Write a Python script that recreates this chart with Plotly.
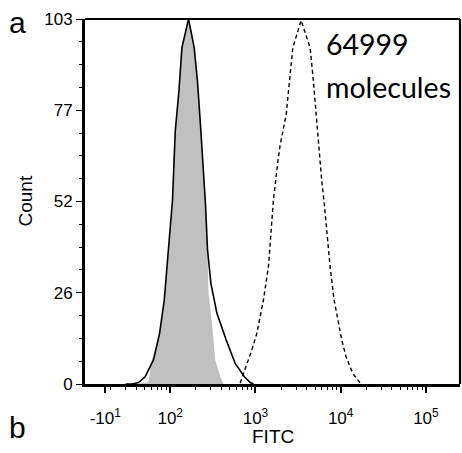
import plotly.graph_objects as go

# ---- data (FITC intensity, count) ----
unstained_fitc = [40, 55.2, 61, 75, 85.1, 95.5, 106.4, 114.5, 126.4, 137.1, 164, 191, 208.9, 229,
                  250.5, 259.5, 273.8, 280.5, 308.5, 337.5, 385.7, 421.8]
unstained_count = [0, 0.5, 6.8, 14.3, 23.7, 37.9, 52, 71.3, 82.6, 94.9, 103, 94.9, 85.4, 71.3,
                   57, 50.6, 37.9, 26, 17.2, 6.8, 2.1, 0]

control_fitc = [30, 36, 42.5, 50.9, 63.6, 75, 85.1, 95.5, 106.4, 114.5, 126.4, 137.1, 164, 191,
                208.9, 229, 250.5, 259.5, 273.8, 300, 352.5, 453.6, 578.6, 737.6, 867, 950]
control_count = [0, 0, 0.4, 2.1, 6.8, 14.3, 23.7, 37.9, 52, 71.3, 82.6, 94.9, 103, 94.9,
                 85.4, 71.3, 57, 50.6, 37.9, 28.4, 20, 12.4, 5.8, 2.1, 0.4, 0]

stained_fitc = [662, 778, 907, 1038, 1135, 1241, 1420, 1527, 1626, 1832, 1950, 2292, 2506, 2744,
                3433, 4378, 4788, 5149, 5479, 6000, 6440, 6870, 7513, 8372, 9150, 10300, 11570,
                13860, 16880]
stained_count = [0.3, 4.9, 9.6, 14.3, 19, 23.7, 33.1, 42.6, 52, 62.8, 67.5, 76, 84.5, 94.9,
                 102.6, 94.9, 85.4, 76, 66.6, 57.2, 50.6, 42.6, 33.1, 23.7, 19, 12.4, 7.7,
                 3, 0.3]

x_tickvals = [17.3, 100, 1000, 10000, 100000]
x_ticktext = ["-10<sup>1</sup>", "10<sup>2</sup>", "10<sup>3</sup>", "10<sup>4</sup>", "10<sup>5</sup>"]
x_minor = [20, 30, 40, 50, 60, 70, 80, 90,
           200, 300, 400, 500, 600, 700, 800, 900,
           2000, 3000, 4000, 5000, 6000, 7000, 8000, 9000,
           20000, 30000, 40000, 50000, 60000, 70000, 80000, 90000]
y_tickvals = [0, 25.75, 51.5, 77.25, 103]
y_ticktext = ["0", "26", "52", "77", "103"]

fig = go.Figure()
fig.add_trace(go.Scatter(x=unstained_fitc, y=unstained_count, mode="lines",
                         line=dict(width=0, color="#c0c0c0"), fill="tozeroy",
                         fillcolor="#c0c0c0", showlegend=False, hoverinfo="skip"))
fig.add_trace(go.Scatter(x=control_fitc, y=control_count, mode="lines",
                         line=dict(width=1.6, color="black"), showlegend=False))
fig.add_trace(go.Scatter(x=stained_fitc, y=stained_count, mode="lines",
                         line=dict(width=1.4, color="black", dash="4px,3px"), showlegend=False))

font_main = "Liberation Sans, Arial, sans-serif"

fig.update_layout(
    width=462, height=453,
    margin=dict(l=85, r=2, t=19, b=69),
    plot_bgcolor="white", paper_bgcolor="white",
    font=dict(family=font_main, color="black", size=17),
    xaxis=dict(type="log", range=[1.0, 5.4], showgrid=False, zeroline=False,
               showline=True, linecolor="black", linewidth=3,
               ticks="outside", ticklen=6, tickwidth=1.5, tickcolor="black",
               tickvals=x_tickvals, ticktext=x_ticktext, tickfont=dict(size=17),
               ticklabelstandoff=11,
               minor=dict(tickvals=x_minor, ticks="outside", ticklen=3, tickwidth=1.2,
                          tickcolor="black", showgrid=False)),
    yaxis=dict(range=[0, 103], showgrid=False, zeroline=False,
               showline=True, linecolor="black", linewidth=3,
               ticks="outside", ticklen=6, tickwidth=1.2, tickcolor="black",
               tickvals=y_tickvals, ticktext=y_ticktext, tickfont=dict(size=17),
               minor=dict(dtick=6.4375, tick0=0, ticks="outside", ticklen=3, tickwidth=1,
                          tickcolor="black", showgrid=False)),
    shapes=[
        dict(type="line", xref="paper", yref="paper", x0=0, x1=1, y0=1, y1=1,
             line=dict(color="black", width=2.2)),
        dict(type="line", xref="paper", yref="paper", x0=1, x1=1, y0=0, y1=1,
             line=dict(color="black", width=2.2)),
    ],
    annotations=[
        dict(text="Count", textangle=-90, xref="paper", yref="paper", x=-0.16, y=0.5,
             xanchor="center", yanchor="middle", showarrow=False, font=dict(size=19)),
        dict(text="FITC", xref="paper", yref="paper", x=0.5, y=-0.145,
             xanchor="center", yanchor="middle", showarrow=False, font=dict(size=19)),
        dict(text="a", xref="paper", yref="paper", x=-0.18, y=0.99,
             xanchor="center", yanchor="middle", showarrow=False, font=dict(size=30)),
        dict(text="b", xref="paper", yref="paper", x=-0.18, y=-0.12,
             xanchor="center", yanchor="middle", showarrow=False, font=dict(size=30)),
        dict(text="64999", xref="paper", yref="paper", x=0.637, y=0.931,
             xanchor="left", yanchor="middle", showarrow=False,
             font=dict(family="Lato, sans-serif", size=28.5)),
        dict(text="molecules", xref="paper", yref="paper", x=0.637, y=0.815,
             xanchor="left", yanchor="middle", showarrow=False,
             font=dict(family="Lato, sans-serif", size=28.5)),
    ],
)

fig.write_html("out.html", config={"displayModeBar": False},
               post_script="document.body.style.margin='0';")
